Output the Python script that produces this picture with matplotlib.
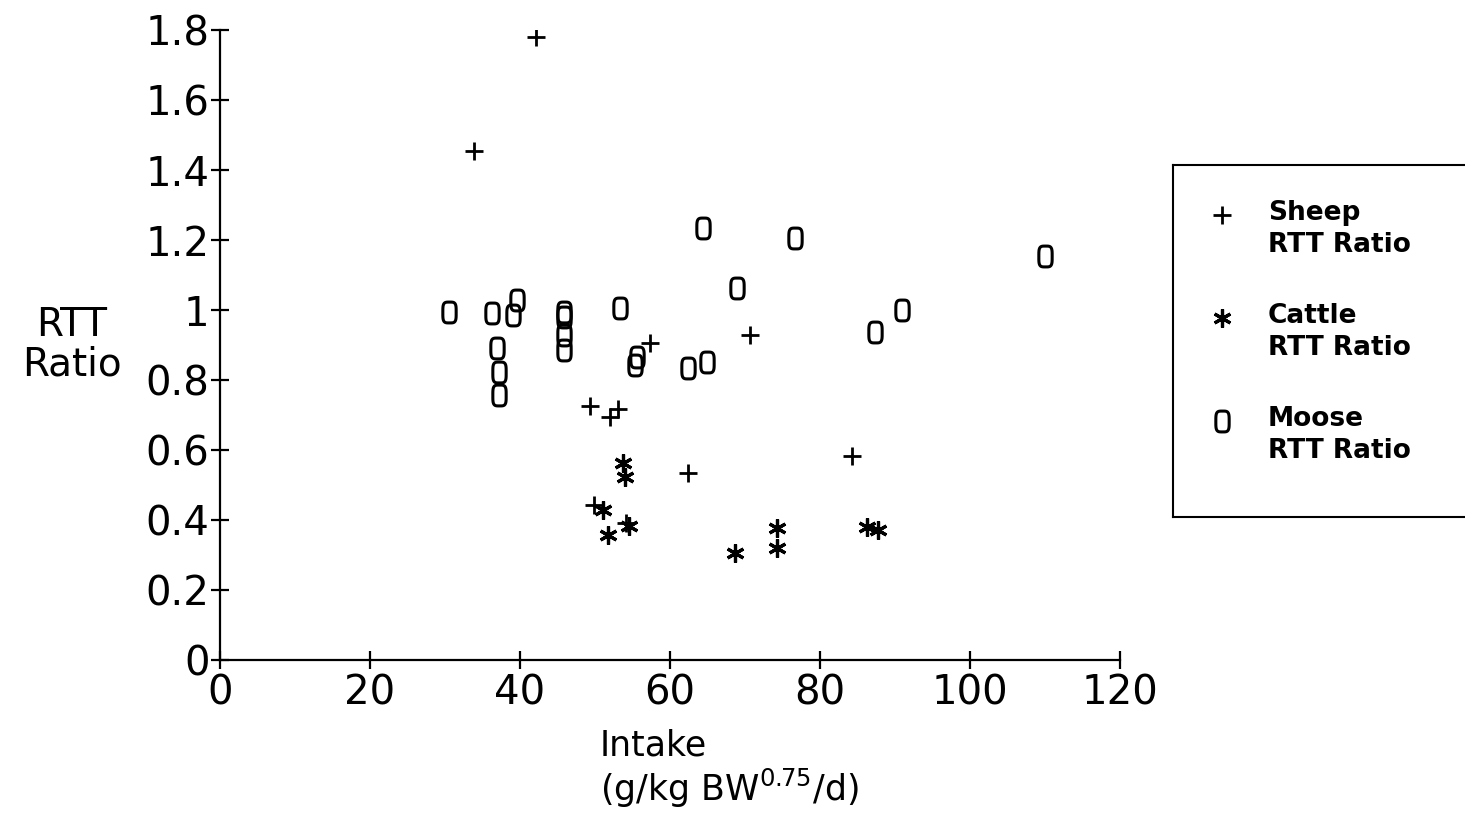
import numpy as np
import matplotlib
matplotlib.use('Agg')
import matplotlib.pyplot as plt
from matplotlib.path import Path

# RTT ratio vs intake
sheep_x = [42.1, 33.9, 49.3, 52.0, 53.1, 57.3, 70.7, 62.4, 84.3, 49.8, 54.1]
sheep_y = [1.78, 1.454, 0.726, 0.694, 0.717, 0.906, 0.929, 0.534, 0.583, 0.443, 0.391]

cattle_x = [53.7, 54.0, 51.1, 51.7, 54.5, 68.7, 74.3, 74.3, 86.3, 87.7]
cattle_y = [0.563, 0.523, 0.429, 0.357, 0.383, 0.306, 0.377, 0.320, 0.380, 0.371]

moose_x = [30.5, 36.3, 39.6, 39.1, 45.9, 45.9, 45.9, 45.9, 53.3, 36.9, 37.2,
           37.2, 55.6, 55.3, 64.4, 76.7, 68.9, 62.4, 64.9, 87.3, 90.9, 110.0]
moose_y = [0.994, 0.991, 1.029, 0.986, 0.994, 0.980, 0.929, 0.886, 1.006, 0.891, 0.823,
           0.757, 0.866, 0.843, 1.234, 1.206, 1.063, 0.834, 0.851, 0.937, 1.000, 1.154]

x_ticks = [0, 20, 40, 60, 80, 100, 120]
y_ticks = [0, 0.2, 0.4, 0.6, 0.8, 1.0, 1.2, 1.4, 1.6, 1.8]
y_ticklabels = ['0', '0.2', '0.4', '0.6', '0.8', '1', '1.2', '1.4', '1.6', '1.8']

series_names = ['Sheep\nRTT Ratio', 'Cattle\nRTT Ratio', 'Moose\nRTT Ratio']

plt.rcParams['font.family'] = ['DejaVu Sans']

# plotter style "0" marker: a tall rounded box (superellipse)
t = np.linspace(0, 2 * np.pi, 80)
zx = 0.32 * np.sign(np.cos(t)) * np.abs(np.cos(t)) ** 0.5
zy = 0.5 * np.sign(np.sin(t)) * np.abs(np.sin(t)) ** 0.5
zero_marker = Path(np.column_stack([zx, zy]), closed=True)

W, H = 1465, 823
fig = plt.figure(figsize=(W / 100, H / 100), dpi=100)
ax = fig.add_axes([220 / W, 1 - 660 / H, 900 / W, 630 / H])

plus_style = dict(linestyle='none', marker='+', markersize=13, markeredgewidth=2.0, color='black')
star_style = dict(linestyle='none', marker=(6, 2, 0), markersize=13, markeredgewidth=2.3, color='black')
zero_style = dict(linestyle='none', marker=zero_marker, markersize=15, markeredgewidth=2.2,
                  markerfacecolor='none', markeredgecolor='black')

ax.plot(sheep_x, sheep_y, **plus_style)
ax.plot(cattle_x, cattle_y, **star_style)
ax.plot(moose_x, moose_y, **zero_style)

ax.set_xlim(0, 120)
ax.set_ylim(0, 1.8)
ax.set_xticks(x_ticks)
ax.set_xticklabels([str(v) for v in x_ticks])
ax.set_yticks(y_ticks)
ax.set_yticklabels(y_ticklabels)
ax.tick_params(direction='inout', length=13, width=1.6, labelsize=29, pad=1)
ax.tick_params(axis='x', pad=3)

for s in ['top', 'right']:
    ax.spines[s].set_visible(False)
for s in ['left', 'bottom']:
    ax.spines[s].set_linewidth(1.6)

ax.set_ylabel('RTT\nRatio', rotation=0, fontsize=28, ha='center', va='center', linespacing=1.05)
ax.yaxis.set_label_coords(-0.165, 0.5)
ax.set_xlabel('Intake\n(g/kg BW$^{0.75}$/d)', fontsize=25, linespacing=1.15,
              multialignment='left')
ax.xaxis.set_label_coords(0.566, -0.108)
ax.xaxis.label.set_va('top')

# legend box drawn as its own axes so the marker sits on the first text line
lax = fig.add_axes([1173 / W, 1 - 517 / H, 300 / W, 352 / H])
lax.set_xlim(0, 300)
lax.set_ylim(352, 0)
lax.set_xticks([])
lax.set_yticks([])
for s in lax.spines.values():
    s.set_linewidth(1.5)
styles = [plus_style, star_style, zero_style]
for i, (name, st) in enumerate(zip(series_names, styles)):
    yy = 50 + i * 103
    lax.plot([49], [yy], **st)
    lax.text(95, yy - 15, name, fontsize=19, fontweight='bold', va='top', ha='left',
             linespacing=1.3)

fig.savefig('out.png', dpi=100)
